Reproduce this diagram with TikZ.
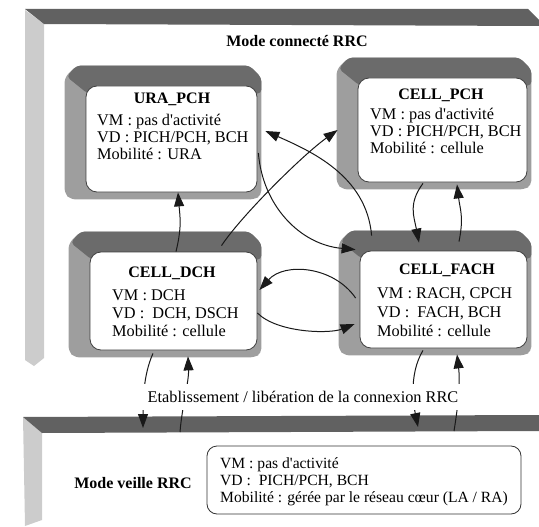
\documentclass[tikz,border=0pt]{standalone}
\usepackage{fontspec}
\setmainfont{Liberation Serif}
\usetikzlibrary{arrows.meta,calc,backgrounds}

\newcommand\titlefont{\fontsize{16}{18}\selectfont\bfseries}
\newcommand\bodyfont{\fontsize{16.3}{17.5}\selectfont}

% 3-D frame around a state box: darker top face, lighter sides
\newcommand\bevelbox[1]{%
  \fill[bevside, rounded corners=5pt]
    ($(#1.north west)+(-21,-8)$) -- ($(#1.north west)+(-9,-20)$) --
    ($(#1.north east)+(-8,-20)$) -- ($(#1.north east)+(4,-8)$) --
    ($(#1.south east)+(4,3)$) -- ($(#1.south east)+(-3,7)$) --
    ($(#1.south west)+(-15,7)$) -- ($(#1.south west)+(-21,1)$) -- cycle;
  \fill[bevtop, rounded corners=4pt]
    ($(#1.north west)+(-19,-9)$) -- ($(#1.north west)+(-9,-20)$) --
    ($(#1.north east)+(-8,-20)$) -- ($(#1.north east)+(4,-8)$) --
    ($(#1.north east)+(4,8)$) -- ($(#1.north west)+(2,8)$) -- cycle;
}

\tikzset{
  statebox/.style={rectangle, rounded corners=11pt, draw=black!75, line width=0.8pt,
                   fill=white, inner sep=0pt},
  statetitle/.style={font=\titlefont, inner sep=0pt},
  statebody/.style={font=\bodyfont, align=left, anchor=north west, inner sep=0pt},
  modetitle/.style={font=\titlefont, inner sep=0pt},
  link/.style={line width=1pt, draw=black!90,
               -{Triangle[length=14pt,width=10pt]}},
  bevside/.style={fill=black!38},
  bevtop/.style={fill=black!58},
  bandtop/.style={fill=black!62},
  bandside/.style={fill=black!20},
}

\begin{document}
\begin{tikzpicture}[x=1pt, y=-1pt]
  \useasboundingbox (0,0) rectangle (539,527);

  % ---------- state boxes ----------
  \node[statebox, minimum width=171pt, minimum height=106pt] (ura)   at (171.5,139) {};
  \node[statebox, minimum width=169pt, minimum height=104pt] (cpch)  at (442.5,130) {};
  \node[statebox, minimum width=167pt, minimum height=98pt]  (cdch)  at (173.5,301) {};
  \node[statebox, minimum width=167pt, minimum height=97pt]  (cfach) at (443.5,299.5) {};
  \node[rectangle, rounded corners=10pt, draw=black!80, line width=0.8pt, fill=white,
        minimum width=314pt, minimum height=68pt] (idle) at (364,480) {};

  \begin{scope}[on background layer]
    % connected-mode slab
    \fill[bandside] (25,10) -- (44,24) -- (44,358) -- (34,366) -- (25,360) -- cycle;
    \fill[bandtop] (25,9) -- (528,9) -- (539,20) -- (539,26) -- (44,24) -- cycle;
    % idle-mode slab
    \fill[bandside] (23,417) -- (42,433) -- (42,520) -- (25,526) -- cycle;
    \fill[bandtop] (23,417) -- (539,415) -- (539,431) -- (42,433) -- cycle;
    % box frames
    \bevelbox{ura}
    \bevelbox{cpch}
    \bevelbox{cdch}
    \bevelbox{cfach}
  \end{scope}

  % ---------- texts ----------
  \node[modetitle] (tconn) at (297,41) {Mode connecté RRC};
  \node[modetitle] (tidle) at (133,483) {Mode veille RRC};

  \node[statetitle] (uratitle) at (172,99) {URA\_PCH};
  \node[statebody, font=\fontsize{16.3}{17}\selectfont] (urabody) at (97,114)
    {VM : pas d\textquotesingle activité\\VD : PICH/PCH, BCH\\Mobilité : URA};

  \node[statetitle] (cpchtitle) at (441,95) {CELL\_PCH};
  \node[statebody, font=\fontsize{16.3}{16.8}\selectfont] (cpchbody) at (370,108)
    {VM : pas d\textquotesingle activité\\VD : PICH/PCH, BCH\\Mobilité : cellule};

  \node[statetitle] (cdchtitle) at (172,273) {CELL\_DCH};
  \node[statebody, font=\fontsize{16.3}{18}\selectfont] (cdchbody) at (112,290)
    {VM : DCH\\VD :\ \ DCH, DSCH\\Mobilité : cellule};

  \node[statetitle] (cfachtitle) at (447,270) {CELL\_FACH};
  \node[statebody, font=\fontsize{16.3}{19}\selectfont] (cfachbody) at (377,288)
    {VM : RACH, CPCH\\VD :\ \ FACH, BCH\\Mobilité : cellule};

  \node[statebody, font=\fontsize{15.6}{17}\selectfont] (idlebody) at (220,457)
    {VM : pas d\textquotesingle activité\\VD :\ \ PICH/PCH, BCH\\Mobilité : gérée par le réseau cœur (LA / RA)};

  % ---------- transitions inside connected mode ----------
  \draw[link] ($(cdch.north)+(2.5,0)$) .. controls +(6,-25) and +(2,25) .. ($(ura.south)+(6.5,0)$);
  \draw[link] ($(cdch.north)+(48,-6)$) .. controls +(20,-30) and +(-35,25) .. ($(cpch.west)+(-20,0)$);
  \draw[link] ($(ura.east)+(1,14)$) .. controls +(4,52) and +(-56,-5) .. ($(cfach.north west)+(-4,-1)$);
  \draw[link] ($(cfach.north west)+(12,-15)$) .. controls +(-5,-60) and +(45,20) .. ($(ura.east)+(8,-8)$);
  \draw[link] ($(cpch.south)+(-19.5,1)$) .. controls +(-15,20) and +(-5,-26) .. ($(cfach.north)+(-24.5,-8)$);
  \draw[link] ($(cfach.north)+(15.5,-9)$) .. controls +(5,-25) and +(3,25) .. ($(cpch.south)+(14.5,2)$);
  \draw[link] ($(cfach.west)+(-4,-1.5)$) .. controls +(-22,-32) and +(25,-28) .. ($(cdch.east)+(2,-11)$);
  \draw[link] ($(cdch.east)+(0,12)$) .. controls +(20,20) and +(-25,10) .. ($(cfach.west)+(-5,24.5)$);

  % ---------- connection set-up / release ----------
  \coordinate (i1) at (143,428);
  \coordinate (i2) at (180,432);
  \coordinate (i3) at (418,427);
  \coordinate (i4) at (454,431);
  \draw[link] ($(cdch.south)+(-20.5,3)$) .. controls +(-10,22) and +(0,-25) .. (i1);
  \draw[link] (i2) .. controls +(2,-25) and +(1,25) .. ($(cdch.south)+(14.5,6)$);
  \draw[link] ($(cfach.south)+(-20.5,2)$) .. controls +(-15,25) and +(-4,-20) .. (i3);
  \draw[link] (i4) .. controls +(5,-30) and +(3,25) .. ($(cfach.south)+(13.5,6)$);

  \node[fill=white, inner sep=0pt, minimum width=345pt, minimum height=26pt,
        font=\fontsize{16.3}{18}\selectfont] (etab) at (303,396.5)
    {Etablissement / libération de la connexion RRC};
\end{tikzpicture}
\end{document}
